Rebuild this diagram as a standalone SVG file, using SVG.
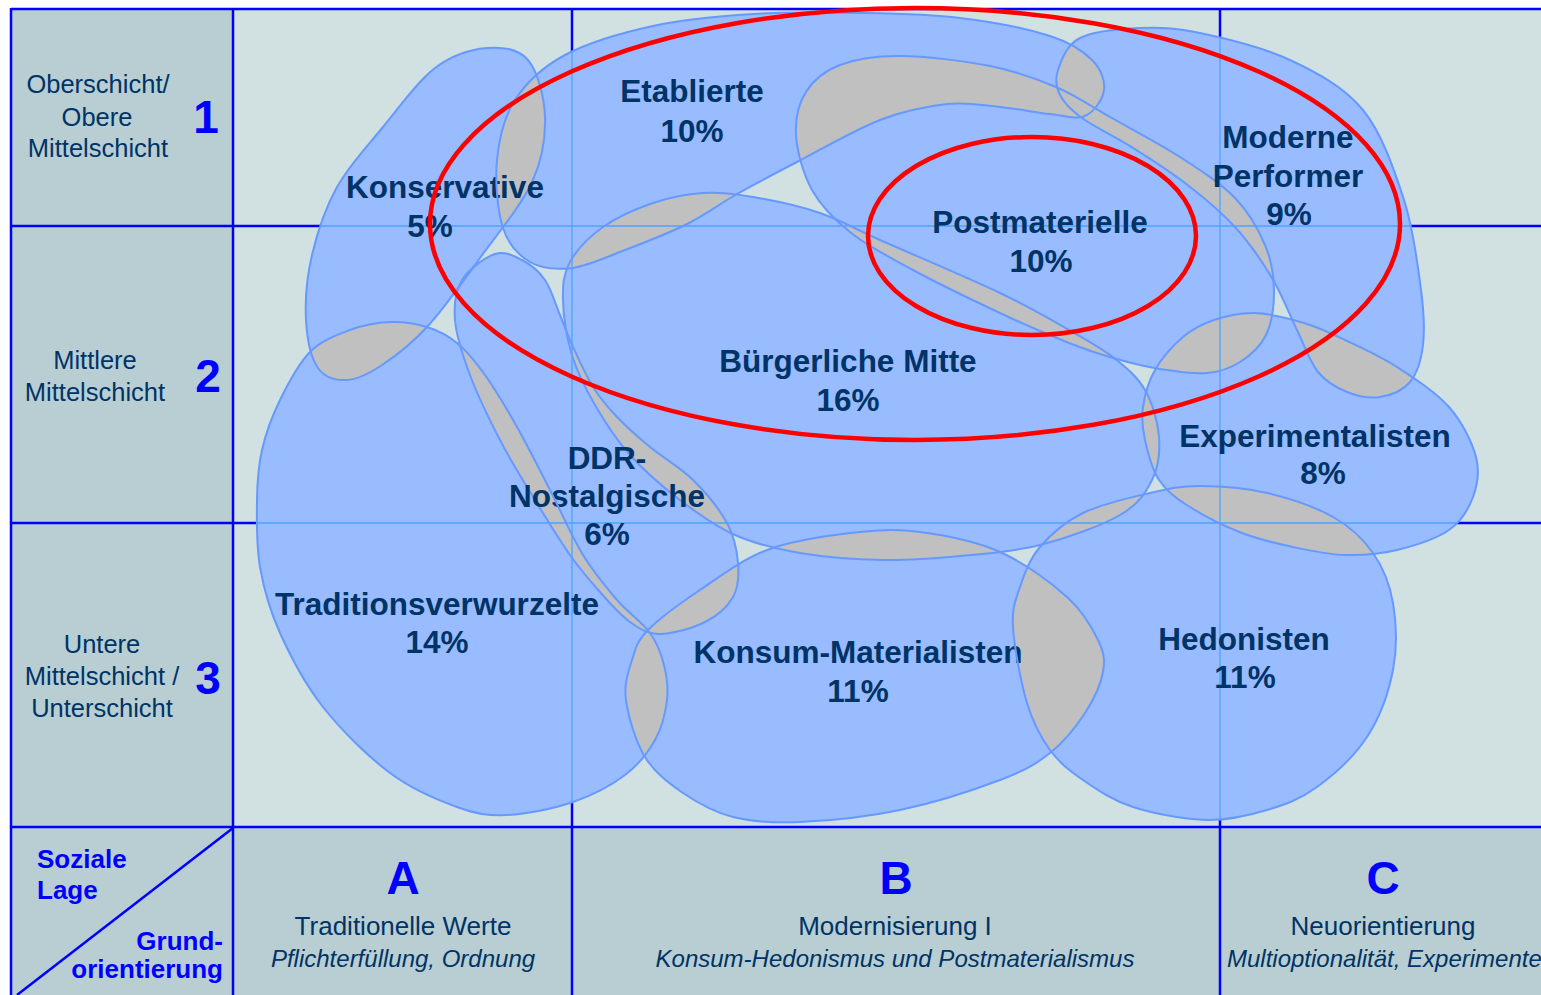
<svg xmlns="http://www.w3.org/2000/svg" xmlns:xlink="http://www.w3.org/1999/xlink" width="1541" height="995" viewBox="0 0 1541 995">
<style>
.lbl{font-family:"Liberation Sans",Arial,sans-serif;font-weight:bold;font-size:31.5px;fill:#003366;text-anchor:middle}
.side{font-family:"Liberation Sans",Arial,sans-serif;font-size:25.5px;fill:#003366;text-anchor:middle}
.num{font-family:"Liberation Sans",Arial,sans-serif;font-weight:bold;font-size:46px;fill:#0000FF;text-anchor:middle}
.axis{font-family:"Liberation Sans",Arial,sans-serif;font-weight:bold;font-size:26px;fill:#0000FF}
.axr{text-anchor:end}
.desc{font-family:"Liberation Sans",Arial,sans-serif;font-size:26px;fill:#003366;text-anchor:middle}
.it{font-family:"Liberation Sans",Arial,sans-serif;font-style:italic;font-size:24px;fill:#003366;text-anchor:middle}
.its{font-family:"Liberation Sans",Arial,sans-serif;font-style:italic;font-size:24px;fill:#003366;text-anchor:start}
.grid{stroke:#0000FF;stroke-width:2.5;fill:none}
.thin{stroke:#4DA3FF;stroke-width:1.3;fill:none}
.outline{fill:none;stroke:#6699FF;stroke-width:2}
.red{fill:none;stroke:#FF0000;stroke-width:4.5}
</style>
<defs>
<path id="pK" d="M 487,48 C 502.5,46.7 518.3,48.5 528,60 C 537.7,71.5 544.3,96.7 545,117 C 545.7,137.3 542.8,158.5 532,182 C 521.2,205.5 497.5,233.8 480,258 C 462.5,282.2 443.3,309.2 427,327 C 410.7,344.8 395.3,356.2 382,365 C 368.7,373.8 357.7,379.5 347,380 C 336.3,380.5 324.8,378 318,368 C 311.2,358 307,338.8 306,320 C 305,301.2 306.8,277.2 312,255 C 317.2,232.8 325.2,208.3 337,187 C 348.8,165.7 366.7,146.8 383,127 C 399.3,107.2 417.7,81.2 435,68 C 452.3,54.8 471.5,49.3 487,48 Z"/>
<path id="pE" d="M 497,160 C 499,138.7 503.7,117.5 515,100 C 526.3,82.5 542,67.3 565,55 C 588,42.7 621.7,32.8 653,26 C 684.3,19.2 718.5,16.2 753,14 C 787.5,11.8 825.5,12.3 860,13 C 894.5,13.7 928.3,14.2 960,18 C 991.7,21.8 1028,29 1050,36 C 1072,43 1083,51 1092,60 C 1101,69 1105.2,80.7 1104,90 C 1102.8,99.3 1094,112 1085,116 C 1076,120 1064.2,115.5 1050,114 C 1035.8,112.5 1017.2,108.7 1000,107 C 982.8,105.3 967,101.8 947,104 C 927,106.2 905,110.3 880,120 C 855,129.7 820.8,149.7 797,162 C 773.2,174.3 755.3,183.7 737,194 C 718.7,204.3 705.7,214.7 687,224 C 668.3,233.3 644.2,242.7 625,250 C 605.8,257.3 587.8,266 572,268 C 556.2,270 541.5,268.7 530,262 C 518.5,255.3 508.5,245 503,228 C 497.5,211 495,181.3 497,160 Z"/>
<path id="pPM" d="M 796,135 C 795,118.7 798.7,103.7 806,92 C 813.3,80.3 824.3,71 840,65 C 855.7,59 875,55.8 900,56 C 925,56.2 964,60.8 990,66 C 1016,71.2 1036,78.5 1056,87 C 1076,95.5 1089.3,105.3 1110,117 C 1130.7,128.7 1159.2,143.5 1180,157 C 1200.8,170.5 1220.8,183.3 1235,198 C 1249.2,212.7 1258.5,229.7 1265,245 C 1271.5,260.3 1273.8,275 1274,290 C 1274.2,305 1271.7,323 1266,335 C 1260.3,347 1249.8,355.7 1240,362 C 1230.2,368.3 1220.3,371.8 1207,373 C 1193.7,374.2 1175.7,371.5 1160,369 C 1144.3,366.5 1128.2,362.3 1113,358 C 1097.8,353.7 1087.8,350.5 1069,343 C 1050.2,335.5 1026,325.2 1000,313 C 974,300.8 938,283.5 913,270 C 888,256.5 866.8,245.3 850,232 C 833.2,218.7 821,206.2 812,190 C 803,173.8 797,151.3 796,135 Z"/>
<path id="pMP" d="M 1058,70 C 1061.3,60.5 1066.3,45 1080,38 C 1093.7,31 1120,28.8 1140,28 C 1160,27.2 1175,27.7 1200,33 C 1225,38.3 1262.8,47.2 1290,60 C 1317.2,72.8 1344,86.7 1363,110 C 1382,133.3 1394.3,170 1404,200 C 1413.7,230 1417.8,265.8 1421,290 C 1424.2,314.2 1424.8,329.7 1423,345 C 1421.2,360.3 1417.2,373.3 1410,382 C 1402.8,390.7 1390.5,395.3 1380,397 C 1369.5,398.7 1357.3,396.2 1347,392 C 1336.7,387.8 1326.3,382.3 1318,372 C 1309.7,361.7 1304.7,345.7 1297,330 C 1289.3,314.3 1282.3,295.2 1272,278 C 1261.7,260.8 1249.5,242.8 1235,227 C 1220.5,211.2 1202.5,196.5 1185,183 C 1167.5,169.5 1147.2,156.8 1130,146 C 1112.8,135.2 1093.7,126.5 1082,118 C 1070.3,109.5 1064,103 1060,95 C 1056,87 1054.7,79.5 1058,70 Z"/>
<path id="pBM" d="M 563,300 C 562.7,284.5 563.3,274.2 570,262 C 576.7,249.8 589.2,236.8 603,227 C 616.8,217.2 636.3,208.7 653,203 C 669.7,197.3 686.3,194 703,193 C 719.7,192 733.5,193.7 753,197 C 772.5,200.3 798.8,205.8 820,213 C 841.2,220.2 850,226.7 880,240 C 910,253.3 968.5,278 1000,293 C 1031.5,308 1050,319.2 1069,330 C 1088,340.8 1101.3,348 1114,358 C 1126.7,368 1137.5,376.8 1145,390 C 1152.5,403.2 1157.8,422 1159,437 C 1160.2,452 1158.5,467 1152,480 C 1145.5,493 1138.7,504.2 1120,515 C 1101.3,525.8 1066.7,538.2 1040,545 C 1013.3,551.8 986.2,553.5 960,556 C 933.8,558.5 909.7,560.5 883,560 C 856.3,559.5 824.7,557.2 800,553 C 775.3,548.8 755,543.8 735,535 C 715,526.2 697.5,513.3 680,500 C 662.5,486.7 644.2,470.8 630,455 C 615.8,439.2 604.7,421.7 595,405 C 585.3,388.3 577.3,372.5 572,355 C 566.7,337.5 563.3,315.5 563,300 Z"/>
<path id="pD" d="M 495,254 C 505,250.7 513.7,255.7 522,260 C 530.3,264.3 538.7,270.8 545,280 C 551.3,289.2 555.3,303.8 560,315 C 564.7,326.2 567.5,335 573,347 C 578.5,359 585.7,375.3 593,387 C 600.3,398.7 607.5,407 617,417 C 626.5,427 637.3,436.5 650,447 C 662.7,457.5 680.2,467.3 693,480 C 705.8,492.7 719.5,509.2 727,523 C 734.5,536.8 737,550.7 738,563 C 739,575.3 738.5,587.2 733,597 C 727.5,606.8 717.2,615.8 705,622 C 692.8,628.2 672.5,634 660,634 C 647.5,634 640,629 630,622 C 620,615 610,603.2 600,592 C 590,580.8 580.8,570.3 570,555 C 559.2,539.7 546.7,519.2 535,500 C 523.3,480.8 510.8,460.8 500,440 C 489.2,419.2 477.5,395 470,375 C 462.5,355 456.3,335.8 455,320 C 453.7,304.2 455.3,291 462,280 C 468.7,269 485,257.3 495,254 Z"/>
<path id="pT" d="M 390,322 C 402.8,321.5 415.8,323.5 427,327 C 438.2,330.5 447.3,335 457,343 C 466.7,351 475,361 485,375 C 495,389 506.2,407.8 517,427 C 527.8,446.2 539,468.7 550,490 C 561,511.3 571.8,536.7 583,555 C 594.2,573.3 605.8,587 617,600 C 628.2,613 642.2,622.2 650,633 C 657.8,643.8 661.2,653.8 664,665 C 666.8,676.2 668.5,687.5 667,700 C 665.5,712.5 662,727.5 655,740 C 648,752.5 638.7,764.7 625,775 C 611.3,785.3 592.7,795.3 573,802 C 553.3,808.7 526.3,814.2 507,815 C 487.7,815.8 476.5,814 457,807 C 437.5,800 412.3,789.7 390,773 C 367.7,756.3 341.3,730.3 323,707 C 304.7,683.7 290.5,656.3 280,633 C 269.5,609.7 263.8,589.2 260,567 C 256.2,544.8 256.7,519.5 257,500 C 257.3,480.5 258.2,466.7 262,450 C 265.8,433.3 272,416.3 280,400 C 288,383.7 298.3,363.7 310,352 C 321.7,340.3 336.7,335 350,330 C 363.3,325 377.2,322.5 390,322 Z"/>
<path id="pKM" d="M 648,630 C 659.3,618.3 680.2,603.3 700,590 C 719.8,576.7 742,559.5 767,550 C 792,540.5 824.5,536 850,533 C 875.5,530 895,528.8 920,532 C 945,535.2 975.5,541.2 1000,552 C 1024.5,562.8 1050.7,582.3 1067,597 C 1083.3,611.7 1092,627.5 1098,640 C 1104,652.5 1105.2,659.8 1103,672 C 1100.8,684.2 1093.8,699.5 1085,713 C 1076.2,726.5 1064.2,741.8 1050,753 C 1035.8,764.2 1025,770.5 1000,780 C 975,789.5 933.3,803 900,810 C 866.7,817 827.8,820.8 800,822 C 772.2,823.2 752.5,821.8 733,817 C 713.5,812.2 697.7,803 683,793 C 668.3,783 654.5,772.5 645,757 C 635.5,741.5 628.2,716.2 626,700 C 623.8,683.8 628.3,671.7 632,660 C 635.7,648.3 636.7,641.7 648,630 Z"/>
<path id="pH" d="M 1013,627 C 1011.8,607.7 1015.5,600.3 1020,587 C 1024.5,573.7 1029.5,559.3 1040,547 C 1050.5,534.7 1064.7,522 1083,513 C 1101.3,504 1130.5,497.5 1150,493 C 1169.5,488.5 1180.5,486 1200,486 C 1219.5,486 1244.8,487.8 1267,493 C 1289.2,498.2 1315.3,507 1333,517 C 1350.7,527 1363,538.7 1373,553 C 1383,567.3 1389.7,583.5 1393,603 C 1396.3,622.5 1397.3,647.7 1393,670 C 1388.7,692.3 1379.7,717.5 1367,737 C 1354.3,756.5 1333.7,774.8 1317,787 C 1300.3,799.2 1285.3,804.5 1267,810 C 1248.7,815.5 1229.3,820.5 1207,820 C 1184.7,819.5 1153.7,813.7 1133,807 C 1112.3,800.3 1096.8,789.5 1083,780 C 1069.2,770.5 1059.3,762.8 1050,750 C 1040.7,737.2 1033.2,723.5 1027,703 C 1020.8,682.5 1014.2,646.3 1013,627 Z"/>
<path id="pX" d="M 1145,440 C 1142.3,427.8 1141.3,418.7 1143,407 C 1144.7,395.3 1148.3,381.7 1155,370 C 1161.7,358.3 1173.2,345.3 1183,337 C 1192.8,328.7 1202,324 1214,320 C 1226,316 1240,312.5 1255,313 C 1270,313.5 1289,318.5 1304,323 C 1319,327.5 1329.5,332.7 1345,340 C 1360.5,347.3 1379.7,355.8 1397,367 C 1414.3,378.2 1435.8,392 1449,407 C 1462.2,422 1472,442 1476,457 C 1480,472 1477.5,484.8 1473,497 C 1468.5,509.2 1461.7,521.2 1449,530 C 1436.3,538.8 1414.3,545.8 1397,550 C 1379.7,554.2 1362.3,555.5 1345,555 C 1327.7,554.5 1310.2,550.7 1293,547 C 1275.8,543.3 1259.2,539.7 1242,533 C 1224.8,526.3 1203.8,515.8 1190,507 C 1176.2,498.2 1166.5,491.2 1159,480 C 1151.5,468.8 1147.7,452.2 1145,440 Z"/>
<clipPath id="cK"><use xlink:href="#pK"/></clipPath>
<clipPath id="cE"><use xlink:href="#pE"/></clipPath>
<clipPath id="cPM"><use xlink:href="#pPM"/></clipPath>
<clipPath id="cMP"><use xlink:href="#pMP"/></clipPath>
<clipPath id="cBM"><use xlink:href="#pBM"/></clipPath>
<clipPath id="cD"><use xlink:href="#pD"/></clipPath>
<clipPath id="cT"><use xlink:href="#pT"/></clipPath>
<clipPath id="cKM"><use xlink:href="#pKM"/></clipPath>
<clipPath id="cH"><use xlink:href="#pH"/></clipPath>
<clipPath id="cAll">
<use xlink:href="#pK"/><use xlink:href="#pE"/><use xlink:href="#pPM"/><use xlink:href="#pMP"/><use xlink:href="#pBM"/><use xlink:href="#pD"/><use xlink:href="#pT"/><use xlink:href="#pKM"/><use xlink:href="#pH"/><use xlink:href="#pX"/>
</clipPath>
</defs>

<g id="background">
<rect x="0" y="0" width="1541" height="995" fill="#FFFFFF"/>
<rect x="11" y="9" width="1530" height="986" fill="#B8CED2"/>
<rect x="233" y="9" width="1308" height="818" fill="#D1E0E1"/>
</g>

<g id="grid">
<line class="grid" x1="11" y1="9" x2="1541" y2="9" stroke-width="3"/>
<line class="grid" x1="11" y1="8" x2="11" y2="995" stroke-width="3"/>
<line class="grid" x1="233" y1="9" x2="233" y2="995"/>
<line class="grid" x1="572" y1="9" x2="572" y2="995"/>
<line class="grid" x1="1220" y1="9" x2="1220" y2="995"/>
<line class="grid" x1="11" y1="226" x2="1541" y2="226"/>
<line class="grid" x1="11" y1="523" x2="1541" y2="523"/>
<line class="grid" x1="11" y1="827" x2="1541" y2="827"/>
<line class="grid" x1="233" y1="828" x2="17" y2="995" stroke-width="2"/>
</g>

<g id="blob-fills" fill="#99BBFF">
<use xlink:href="#pK"/><use xlink:href="#pE"/><use xlink:href="#pPM"/><use xlink:href="#pMP"/><use xlink:href="#pBM"/><use xlink:href="#pD"/><use xlink:href="#pT"/><use xlink:href="#pKM"/><use xlink:href="#pH"/><use xlink:href="#pX"/>
</g>

<g id="overlaps" fill="#C0C0C0">
<g clip-path="url(#cK)"><use xlink:href="#pE"/><use xlink:href="#pT"/><use xlink:href="#pD"/></g>
<g clip-path="url(#cE)"><use xlink:href="#pBM"/><use xlink:href="#pPM"/><use xlink:href="#pMP"/><use xlink:href="#pD"/></g>
<g clip-path="url(#cPM)"><use xlink:href="#pBM"/><use xlink:href="#pMP"/><use xlink:href="#pX"/></g>
<g clip-path="url(#cMP)"><use xlink:href="#pX"/></g>
<g clip-path="url(#cBM)"><use xlink:href="#pD"/><use xlink:href="#pKM"/><use xlink:href="#pX"/><use xlink:href="#pH"/></g>
<g clip-path="url(#cD)"><use xlink:href="#pT"/><use xlink:href="#pKM"/></g>
<g clip-path="url(#cT)"><use xlink:href="#pKM"/></g>
<g clip-path="url(#cKM)"><use xlink:href="#pH"/></g>
<g clip-path="url(#cH)"><use xlink:href="#pX"/></g>
</g>

<g id="grid-thin" clip-path="url(#cAll)">
<line class="thin" x1="572" y1="9" x2="572" y2="827"/>
<line class="thin" x1="1220" y1="9" x2="1220" y2="827"/>
<line class="thin" x1="233" y1="226" x2="1541" y2="226"/>
<line class="thin" x1="233" y1="523" x2="1541" y2="523"/>
</g>

<g id="node-konservative"><use class="outline" xlink:href="#pK"/><text class="lbl" x="445" y="198">Konservative</text><text class="lbl" x="430" y="237">5%</text></g>
<g id="node-etablierte"><use class="outline" xlink:href="#pE"/><text class="lbl" x="692" y="102">Etablierte</text><text class="lbl" x="692" y="142">10%</text></g>
<g id="node-postmaterielle"><use class="outline" xlink:href="#pPM"/><text class="lbl" x="1040" y="233">Postmaterielle</text><text class="lbl" x="1041" y="272">10%</text></g>
<g id="node-moderne-performer"><use class="outline" xlink:href="#pMP"/><text class="lbl" x="1288" y="148">Moderne</text><text class="lbl" x="1288" y="187">Performer</text><text class="lbl" x="1289" y="225">9%</text></g>
<g id="node-buergerliche-mitte"><use class="outline" xlink:href="#pBM"/><text class="lbl" x="848" y="372">Bürgerliche Mitte</text><text class="lbl" x="848" y="411">16%</text></g>
<g id="node-ddr-nostalgische"><use class="outline" xlink:href="#pD"/><text class="lbl" x="607" y="469">DDR-</text><text class="lbl" x="607" y="507">Nostalgische</text><text class="lbl" x="607" y="545">6%</text></g>
<g id="node-traditionsverwurzelte"><use class="outline" xlink:href="#pT"/><text class="lbl" x="437" y="615">Traditionsverwurzelte</text><text class="lbl" x="437" y="653">14%</text></g>
<g id="node-konsum-materialisten"><use class="outline" xlink:href="#pKM"/><text class="lbl" x="858" y="663">Konsum-Materialisten</text><text class="lbl" x="858" y="702">11%</text></g>
<g id="node-hedonisten"><use class="outline" xlink:href="#pH"/><text class="lbl" x="1244" y="650">Hedonisten</text><text class="lbl" x="1245" y="688">11%</text></g>
<g id="node-experimentalisten"><use class="outline" xlink:href="#pX"/><text class="lbl" x="1315" y="447">Experimentalisten</text><text class="lbl" x="1323" y="484">8%</text></g>

<g id="highlights">
<ellipse class="red" cx="915" cy="224" rx="485" ry="216"/>
<ellipse class="red" cx="1032" cy="236" rx="164" ry="99"/>
</g>

<g id="row-labels">
<text class="side" x="98" y="93">Oberschicht/</text>
<text class="side" x="97" y="126">Obere</text>
<text class="side" x="98" y="157">Mittelschicht</text>
<text class="num" x="206" y="133">1</text>
<text class="side" x="95" y="369">Mittlere</text>
<text class="side" x="95" y="401">Mittelschicht</text>
<text class="num" x="208" y="392">2</text>
<text class="side" x="102" y="653">Untere</text>
<text class="side" x="102" y="685">Mittelschicht /</text>
<text class="side" x="102" y="717">Unterschicht</text>
<text class="num" x="208" y="694">3</text>
</g>

<g id="column-labels">
<text class="axis" x="37" y="868">Soziale</text>
<text class="axis" x="37" y="899">Lage</text>
<text class="axis axr" x="223" y="950">Grund-</text>
<text class="axis axr" x="223" y="978">orientierung</text>
<text class="num" x="403" y="894">A</text>
<text class="desc" x="403" y="935">Traditionelle Werte</text>
<text class="it" x="403" y="967">Pflichterfüllung, Ordnung</text>
<text class="num" x="896" y="894">B</text>
<text class="desc" x="895" y="935">Modernisierung I</text>
<text class="it" x="895" y="967">Konsum-Hedonismus und Postmaterialismus</text>
<text class="num" x="1383" y="894">C</text>
<text class="desc" x="1383" y="935">Neuorientierung</text>
<text class="its" x="1227" y="967">Multioptionalität, Experimente</text>
</g>
</svg>
